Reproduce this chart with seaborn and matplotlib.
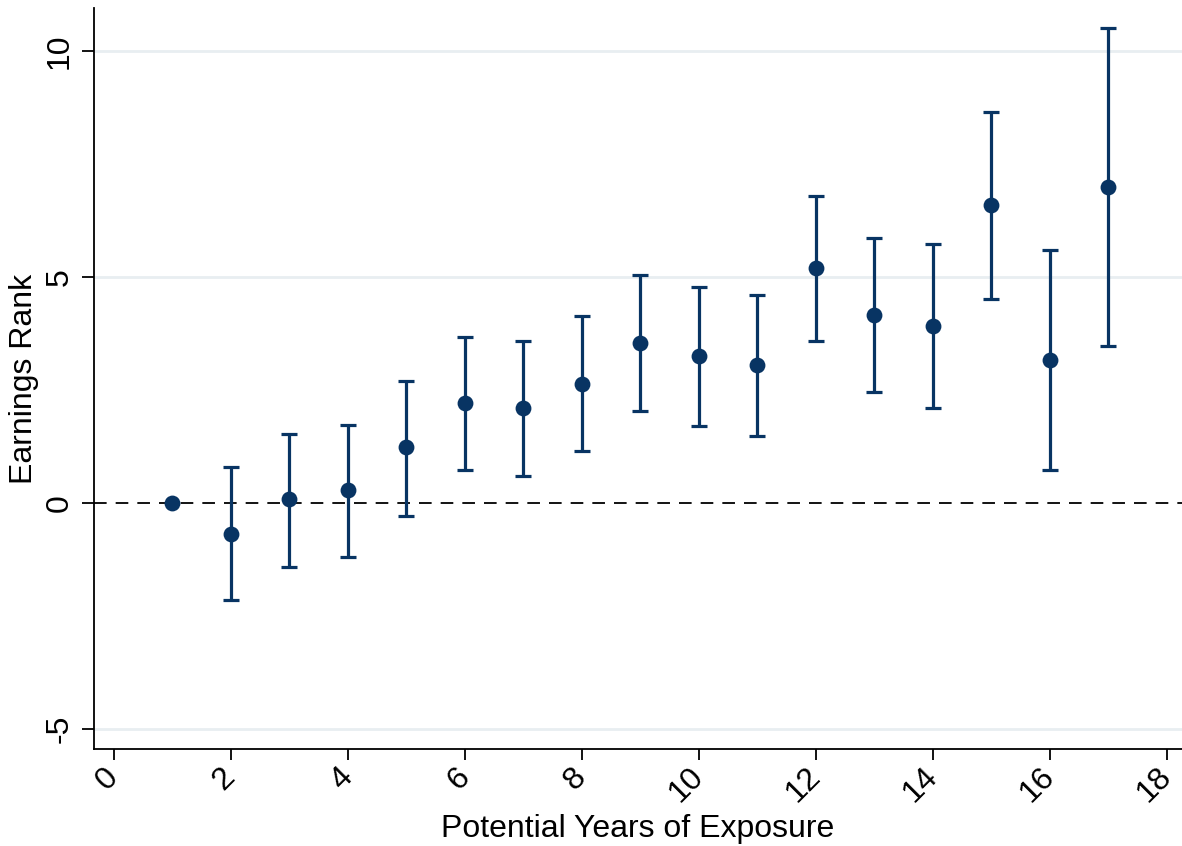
import numpy as np
import pandas as pd
import matplotlib.pyplot as plt
import seaborn as sns

# Data
years = [1, 2, 3, 4, 5, 6, 7, 8, 9, 10, 11, 12, 13, 14, 15, 16, 17]
coef = [0.0, -0.67, 0.09, 0.29, 1.24, 2.22, 2.11, 2.64, 3.55, 3.26, 3.06, 5.21, 4.17, 3.92, 6.59, 3.17, 7.01]
ci_low = [0.0, -2.13, -1.40, -1.18, -0.27, 0.73, 0.60, 1.15, 2.04, 1.71, 1.49, 3.59, 2.46, 2.11, 4.52, 0.73, 3.48]
ci_high = [0.0, 0.80, 1.53, 1.73, 2.70, 3.68, 3.59, 4.15, 5.06, 4.79, 4.61, 6.79, 5.86, 5.74, 8.65, 5.61, 10.51]

df = pd.DataFrame({"years": years, "coef": coef, "lo": ci_low, "hi": ci_high})

sns.set_style("ticks")
plt.rcParams["font.family"] = ["Liberation Sans", "DejaVu Sans"]
plt.rcParams["axes.unicode_minus"] = False
plt.rcParams["text.color"] = "black"
plt.rcParams["axes.labelcolor"] = "black"
plt.rcParams["xtick.color"] = "black"
plt.rcParams["ytick.color"] = "black"
plt.rcParams["axes.edgecolor"] = "black"

navy = "#083463"

fig, ax = plt.subplots(figsize=(11.82, 8.46), dpi=100)
fig.subplots_adjust(left=0.0795, right=1.0, top=0.99, bottom=0.115)

# grid lines (Stata-like)
for yv in [-5, 5, 10]:
    ax.axhline(yv, color="#e8eef1", lw=2, zorder=0)
ax.axhline(0, color="black", lw=1.3, ls=(0, (7, 5)), zorder=1)

# confidence intervals (skip the reference year)
ci = df[df["years"] != 1]
ax.errorbar(ci["years"], ci["coef"],
            yerr=[ci["coef"] - ci["lo"], ci["hi"] - ci["coef"]],
            fmt="none", ecolor=navy, elinewidth=2.3, capsize=6, capthick=2.3, zorder=2)
sns.scatterplot(data=df, x="years", y="coef", color=navy, s=130, edgecolor=navy,
                linewidth=0, zorder=3, ax=ax)

ax.set_xlim(-0.34, 18.26)
ax.set_ylim(-5.43, 10.95)
ax.set_xticks(range(0, 19, 2))
ax.set_yticks([-5, 0, 5, 10])
ax.tick_params(axis="x", labelsize=23, length=8, width=1.3, pad=9)
ax.tick_params(axis="y", labelsize=23, rotation=90, length=9, width=1.3, pad=5)
for lab in ax.get_yticklabels():
    lab.set_va("center")
for lab in ax.get_xticklabels():
    lab.set_rotation(45)
    lab.set_ha("right")
    lab.set_va("center")
    lab.set_rotation_mode("anchor")

ax.set_xlabel("Potential Years of Exposure", fontsize=23, labelpad=4)
ax.set_ylabel("Earnings Rank", fontsize=23, labelpad=4)
sns.despine(ax=ax)
for sp in ["left", "bottom"]:
    ax.spines[sp].set_linewidth(1.3)

plt.savefig("out.png", dpi=100)
